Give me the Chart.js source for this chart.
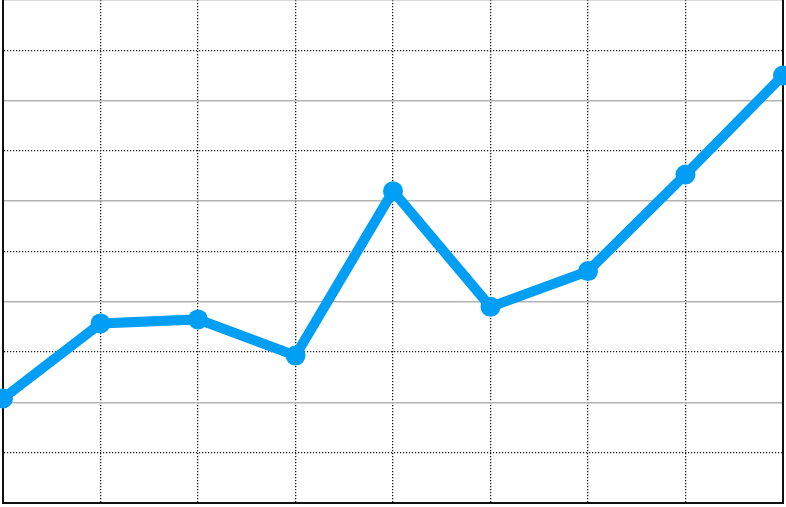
<!DOCTYPE html>
<html lang="en">
<head>
  <meta charset="UTF-8">
  <title>Line chart</title>
  <script src="https://cdn.jsdelivr.net/npm/chart.js"></script>
  <style>
    html, body { margin: 0; padding: 0; background: #fff; }
    #wrap { width: 786px; height: 507px; }
  </style>
</head>
<body>
  <div id="wrap"><canvas id="lineChart"></canvas></div>

  <script>
    // values, y runs 0..10
    const categories = ['1', '2', '3', '4', '5', '6', '7', '8', '9'];
    const seriesValues = [2.08, 3.57, 3.65, 2.93, 6.20, 3.90, 4.61, 6.53, 8.50];
    const yTicks = [0, 1, 2, 3, 4, 5, 6, 7, 8, 9, 10];

    const DOTS = [1.2, 1.8];
    const isMinor = (c) => c.tick && c.tick.value % 2 === 1;

    const ctx = document.getElementById('lineChart').getContext('2d');
    new Chart(ctx, {
      type: 'line',
      data: {
        labels: categories,
        datasets: [{
          data: seriesValues,
          borderColor: '#009ff5',
          backgroundColor: '#009ff5',
          borderWidth: 10,
          pointRadius: 10,
          pointHoverRadius: 10,
          pointBorderWidth: 0,
          tension: 0,
          clip: false
        }]
      },
      options: {
        responsive: true,
        maintainAspectRatio: false,
        animation: false,
        layout: { autoPadding: false, padding: { left: 3, right: 3, top: 0, bottom: 4 } },
        plugins: { legend: { display: false }, tooltip: { enabled: false } },
        scales: {
          x: {
            offset: false,
            ticks: { display: false },
            grid: { color: '#1a1a1a', lineWidth: 1.3, drawTicks: false },
            border: { display: true, color: '#111', width: 2, dash: DOTS }
          },
          y: {
            min: yTicks[0],
            max: yTicks[yTicks.length - 1],
            afterBuildTicks: (s) => { s.ticks = yTicks.map(v => ({ value: v })); },
            ticks: { display: false },
            grid: {
              drawTicks: false,
              color: (c) => isMinor(c) ? '#1a1a1a' : '#b3b3b3',
              lineWidth: (c) => isMinor(c) ? 1.3 : 1.5
            },
            border: {
              display: true, color: '#111', width: 2,
              dash: (c) => isMinor(c) ? DOTS : []
            }
          },
          yRight: {
            position: 'right',
            min: 0,
            max: 10,
            ticks: { display: false },
            grid: { display: false, drawTicks: false },
            border: { display: true, color: '#111', width: 2 }
          }
        }
      }
    });
  </script>
</body>
</html>
